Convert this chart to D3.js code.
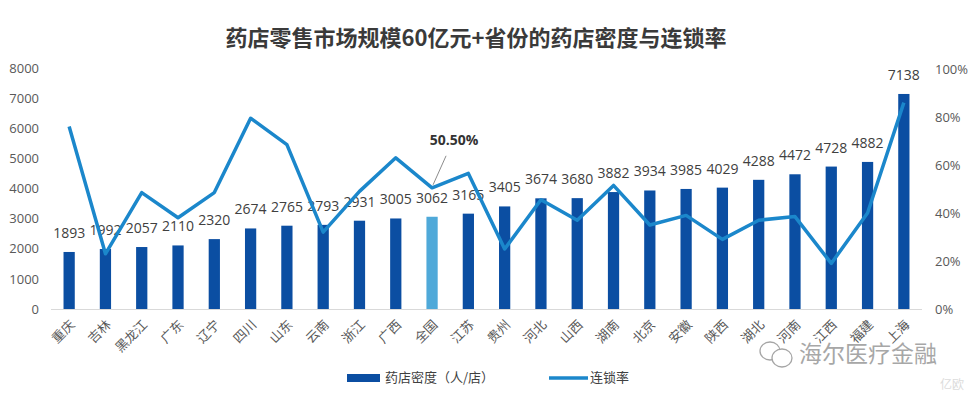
<!DOCTYPE html>
<html><head><meta charset="utf-8">
<script src="https://cdn.jsdelivr.net/npm/d3@7"></script>
<style>
body{margin:0;background:#fff;}
svg{display:block;font-family:"Noto Sans CJK SC","Noto Sans",sans-serif;}
</style></head>
<body><div id="chart"></div>
<script>
const categories = ["重庆","吉林","黑龙江","广东","辽宁","四川","山东","云南","浙江","广西","全国","江苏","贵州","河北","山西","湖南","北京","安徽","陕西","湖北","河南","江西","福建","上海"];
const density = [1893,1992,2057,2110,2320,2674,2765,2793,2931,3005,3062,3165,3405,3674,3680,3882,3934,3985,4029,4288,4472,4728,4882,7138];
const chainRate = [76,23,48.5,38,48.5,79.5,68.5,32,49,63,50.5,56.5,25,45.5,37,51.5,35,39,29,37,38.5,19,40,86];
const leftTicks = [0,1000,2000,3000,4000,5000,6000,7000,8000];
const rightTicks = [0,20,40,60,80,100];
const highlight = "全国";
const title = "药店零售市场规模60亿元+省份的药店密度与连锁率";
const legendLabels = ["药店密度（人/店）","连锁率"];

const W = 977, H = 400;
const svg = d3.select("#chart").append("svg").attr("width", W).attr("height", H);

const x = d3.scaleBand().domain(categories).range([51, 922]).paddingInner(0.69).paddingOuter(0.345);
const yL = d3.scaleLinear().domain([0, 8000]).range([309, 68]);
const yR = d3.scaleLinear().domain([0, 100]).range([309, 69]);

// title
svg.append("text").attr("x", 476).attr("y", 46).attr("text-anchor", "middle")
  .attr("font-size", 22).attr("font-weight", "bold").attr("fill", "#3a3a3a")
  .attr("font-family", "'Noto Sans CJK SC', serif").text(title);

// left axis
const axL = svg.append("g").attr("transform", "translate(39,0)")
  .call(d3.axisLeft(yL).tickValues(leftTicks).tickSize(0).tickPadding(0).tickFormat(d3.format("d")));
axL.select(".domain").remove();
axL.selectAll("text").attr("font-size", 13).attr("fill", "#595959").attr("font-family", "'Open Sans',sans-serif");

// right axis
const axR = svg.append("g").attr("transform", "translate(935,0)")
  .call(d3.axisRight(yR).tickValues(rightTicks).tickSize(0).tickPadding(0).tickFormat(d => d + "%"));
axR.select(".domain").remove();
axR.selectAll("text").attr("font-size", 13).attr("fill", "#595959").attr("font-family", "'Open Sans',sans-serif");

// baseline
svg.append("line").attr("x1", 51).attr("x2", 922).attr("y1", yL(0) + 0.5).attr("y2", yL(0) + 0.5)
  .attr("stroke", "#d9d9d9").attr("stroke-width", 1);

// bars
svg.append("g").selectAll("rect").data(categories).join("rect")
  .attr("x", d => x(d)).attr("width", x.bandwidth())
  .attr("y", (d, i) => yL(density[i])).attr("height", (d, i) => yL(0) - yL(density[i]))
  .attr("fill", d => d === highlight ? "#4fa9d9" : "#0b4ea2");

// bar labels
svg.append("g").selectAll("text").data(categories).join("text")
  .attr("x", d => x(d) + x.bandwidth() / 2)
  .attr("y", (d, i) => yL(density[i]) - 14)
  .attr("text-anchor", "middle").attr("font-size", 14).attr("fill", "#404040")
  .attr("font-family", "'Open Sans',sans-serif")
  .text((d, i) => density[i]);

// line
const line = d3.line().x((d, i) => x(categories[i]) + x.bandwidth() / 2).y(d => yR(d));
svg.append("path").datum(chainRate).attr("d", line).attr("fill", "none")
  .attr("stroke", "#1b87cb").attr("stroke-width", 3.5).attr("stroke-linejoin", "round");

// annotation for highlight
const hi = categories.indexOf(highlight);
const hx = x(highlight) + x.bandwidth() / 2, hy = yR(chainRate[hi]);
svg.append("line").attr("x1", hx + 1).attr("y1", hy - 3).attr("x2", hx + 14).attr("y2", hy - 32)
  .attr("stroke", "#8c8c8c").attr("stroke-width", 1);
svg.append("text").attr("x", hx + 22).attr("y", hy - 43).attr("text-anchor", "middle")
  .attr("font-size", 14).attr("font-weight", "bold").attr("fill", "#333")
  .attr("font-family", "'Open Sans',sans-serif").text(chainRate[hi].toFixed(2) + "%");

// x labels
svg.append("g").selectAll("text").data(categories).join("text")
  .attr("transform", d => `translate(${x(d) + x.bandwidth() / 2 + 4},${323}) rotate(-45)`)
  .attr("text-anchor", "end").attr("dominant-baseline", "middle")
  .attr("font-size", 13).attr("fill", "#595959").text(d => d);

// legend
const lg = svg.append("g");
lg.append("rect").attr("x", 347).attr("y", 374).attr("width", 33).attr("height", 8).attr("fill", "#0b4ea2");
lg.append("text").attr("x", 385).attr("y", 378).attr("dominant-baseline", "middle")
  .attr("font-size", 13).attr("fill", "#404040").text(legendLabels[0]);
lg.append("line").attr("x1", 549).attr("x2", 588).attr("y1", 378).attr("y2", 378)
  .attr("stroke", "#1b87cb").attr("stroke-width", 3.5);
lg.append("text").attr("x", 590).attr("y", 378).attr("dominant-baseline", "middle")
  .attr("font-size", 13).attr("fill", "#404040").text(legendLabels[1]);

// watermark
const wm = svg.append("g").attr("opacity", 0.75);
wm.append("ellipse").attr("cx", 770).attr("cy", 351).attr("rx", 10).attr("ry", 9).attr("fill", "none").attr("stroke", "#888").attr("stroke-width", 1.3);
wm.append("ellipse").attr("cx", 782).attr("cy", 358).attr("rx", 10).attr("ry", 9).attr("fill", "#fff").attr("stroke", "#888").attr("stroke-width", 1.3);
wm.append("text").attr("x", 799).attr("y", 356).attr("dominant-baseline", "middle")
  .attr("font-size", 23).attr("fill", "#8a8a8a").text("海尔医疗金融");
wm.append("text").attr("x", 940).attr("y", 386).attr("dominant-baseline", "middle")
  .attr("font-size", 12).attr("fill", "#d0d0d0").text("亿欧");
</script>
</body></html>
